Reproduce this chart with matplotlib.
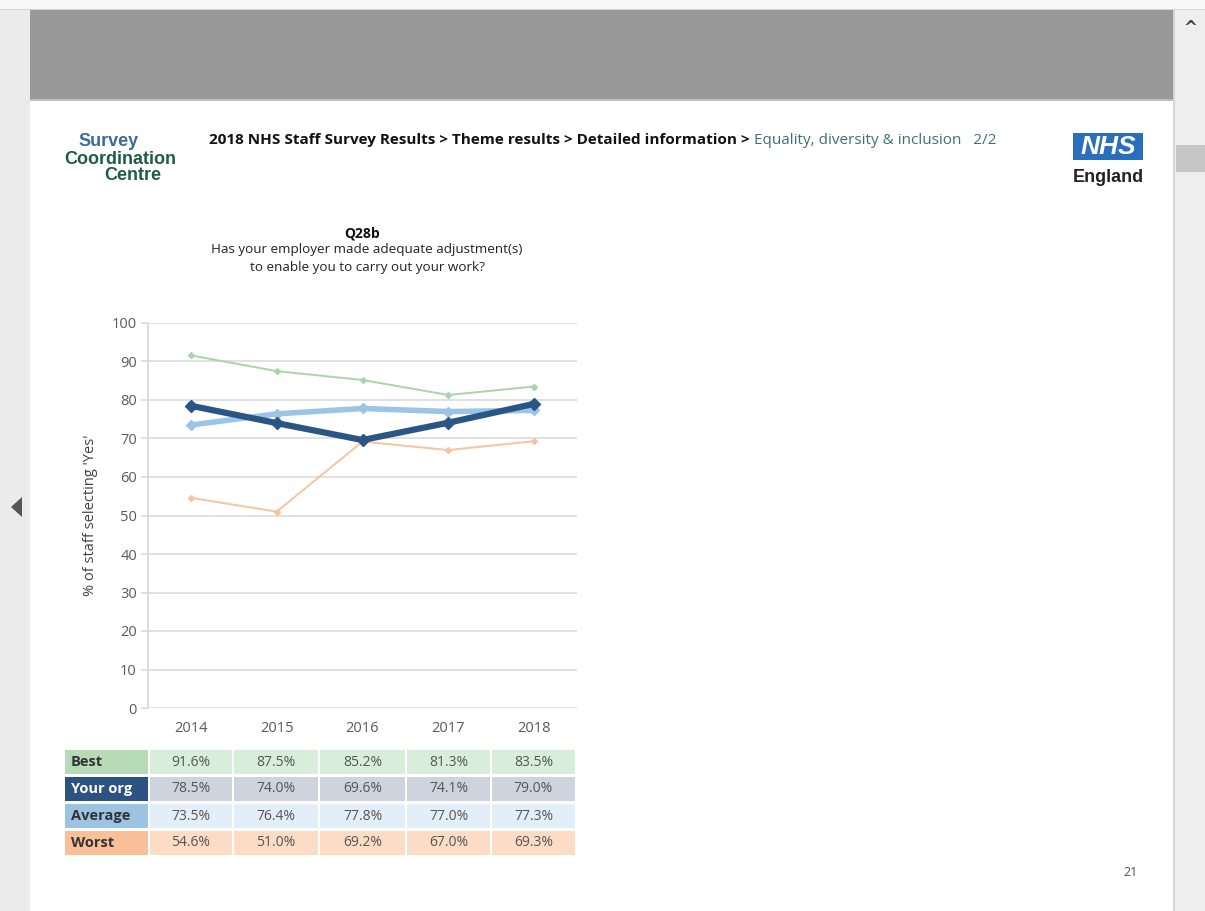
import matplotlib
matplotlib.use("Agg")
import matplotlib.pyplot as plt
from matplotlib.patches import Rectangle, Polygon

years = ["2014", "2015", "2016", "2017", "2018"]
series_names = ["Best", "Your org", "Average", "Worst"]
best = [91.6, 87.5, 85.2, 81.3, 83.5]
your_org = [78.5, 74.0, 69.6, 74.1, 79.0]
average = [73.5, 76.4, 77.8, 77.0, 77.3]
worst = [54.6, 51.0, 69.2, 67.0, 69.3]
y_ticks = [0, 10, 20, 30, 40, 50, 60, 70, 80, 90, 100]

W, H = 1205, 911
FONT = "Open Sans"
fig = plt.figure(figsize=(W / 100, H / 100), dpi=100)

# background / decoration axes in pixel coords
bg = fig.add_axes([0, 0, 1, 1])
bg.set_xlim(0, W)
bg.set_ylim(H, 0)
bg.axis("off")

def rect(x0, y0, x1, y1, color, **kw):
    bg.add_patch(Rectangle((x0, y0), x1 - x0, y1 - y0, facecolor=color, edgecolor="none", **kw))

rect(0, 0, W, H, "#ebebeb")
rect(0, 0, W, 9, "#f8f8f8")
rect(0, 8.5, W, 10, "#d4d4d4")
rect(30, 10, 1173, 99, "#999999")
rect(30, 99, 1173, 101, "#bdbdbd")
rect(30, 101, 1173, H, "#ffffff")
rect(1173, 10, 1175, H, "#d6d6d6")
rect(1175, 10, W, H, "#eeeeee")
rect(1176, 145, W, 172, "#c6c6c6")
bg.text(1190, 28, "^", ha="center", va="center", fontsize=12, fontweight="bold", color="#444444",
        family="DejaVu Sans")
bg.add_patch(Polygon([(11, 507), (22, 497), (22, 517)], closed=True, facecolor="#555555", edgecolor="none"))

# logos
bg.text(109, 142, "Survey", ha="center", va="center", fontsize=13, fontweight="bold",
        color="#3b6a9c", family="Liberation Sans")
bg.text(120, 159, "Coordination", ha="center", va="center", fontsize=13, fontweight="bold",
        color="#1d5c47", family="Liberation Sans")
bg.text(133, 176, "Centre", ha="center", va="center", fontsize=13, fontweight="bold",
        color="#1d5c47", family="Liberation Sans")
rect(1073, 133, 1143, 160, "#2a6ebe")
bg.text(1108, 147, "NHS", ha="center", va="center", fontsize=19, fontweight="bold", style="italic",
        color="white", family="Liberation Sans")
bg.text(1108, 177, "England", ha="center", va="center", fontsize=13, fontweight="bold",
        color="#222222", family="Liberation Sans")

# header breadcrumb
t1 = bg.text(209, 140, "2018 NHS Staff Survey Results > Theme results > Detailed information > ",
             ha="left", va="center", fontsize=11, fontweight="bold", color="#111111", family=FONT)
bg.annotate("Equality, diversity & inclusion   2/2", xy=(1, 0.5), xycoords=t1, va="center",
            ha="left", fontsize=11, color="#3f7070", family=FONT)

# chart title
bg.text(362, 233, "Q28b", ha="center", va="center", fontsize=10, fontweight="bold", color="#111111", family=FONT)
bg.text(367, 250, "Has your employer made adequate adjustment(s)", ha="center", va="center",
        fontsize=9.7, color="#222222", family=FONT)
bg.text(367, 268, "to enable you to carry out your work?", ha="center", va="center",
        fontsize=9.7, color="#222222", family=FONT)
bg.text(90, 515, "% of staff selecting 'Yes'", ha="center", va="center", rotation=90,
        fontsize=10.5, color="#404040", family=FONT)
bg.text(1131, 872, "21", ha="center", va="center", fontsize=9, color="#555555", family=FONT)

# chart axes
L, R, T, B = 148, 577, 323, 708
ax = fig.add_axes([L / W, 1 - B / H, (R - L) / W, (B - T) / H])
ax.set_facecolor("none")
xs = list(range(len(years)))
ax.set_xlim(-0.5, len(years) - 0.5)
ax.set_ylim(0, 100)
ax.set_yticks(y_ticks)
ax.set_xticks(xs)
ax.set_xticklabels(years)
ax.grid(axis="y", color="#d9d9d9", linewidth=1.1)
ax.set_axisbelow(True)
for s in ["top", "right", "bottom"]:
    ax.spines[s].set_visible(False)
ax.spines["left"].set_color("#d9d9d9")
ax.spines["left"].set_linewidth(1.3)
ax.tick_params(axis="y", length=5, color="#d9d9d9", width=1.1, labelsize=10.5, labelcolor="#595959", pad=3)
ax.tick_params(axis="x", length=0, labelsize=10.5, labelcolor="#595959", pad=9)
for lab in ax.get_xticklabels() + ax.get_yticklabels():
    lab.set_family(FONT)

ax.plot(xs, best, color="#a9d5a9", lw=1.4, marker="D", ms=3, zorder=3)
ax.plot(xs, worst, color="#f8c49d", lw=1.4, marker="D", ms=3, zorder=3)
ax.plot(xs, average, color="#9cc4e6", lw=4.0, marker="D", ms=5, zorder=4)
ax.plot(xs, your_org, color="#2b5584", lw=4.5, marker="D", ms=6, zorder=5)

# data table
row_tops = [750, 777, 804, 831]
row_h = 24
col_edges = [(65, 148), (149.5, 232), (233.5, 318), (320, 405), (407, 490), (492, 575)]
label_bg = ["#b6dbb6", "#2c5281", "#9dc3e3", "#f8bf99"]
data_bg = ["#d9eeda", "#cdd4de", "#e3eff8", "#fcdcc5"]
label_fg = ["#333333", "#ffffff", "#333333", "#333333"]
all_vals = [best, your_org, average, worst]
for r, (name, vals) in enumerate(zip(series_names, all_vals)):
    y0 = row_tops[r]
    x0, x1 = col_edges[0]
    rect(x0, y0, x1, y0 + row_h, label_bg[r])
    bg.text(x0 + 6, y0 + row_h / 2, name, ha="left", va="center", fontsize=10.5, fontweight="bold",
            color=label_fg[r], family=FONT)
    for c, v in enumerate(vals):
        cx0, cx1 = col_edges[c + 1]
        rect(cx0, y0, cx1, y0 + row_h, data_bg[r])
        bg.text((cx0 + cx1) / 2, y0 + row_h / 2, f"{v:.1f}%", ha="center", va="center",
                fontsize=10, color="#555555", family=FONT)

fig.savefig("out.png", dpi=100)
